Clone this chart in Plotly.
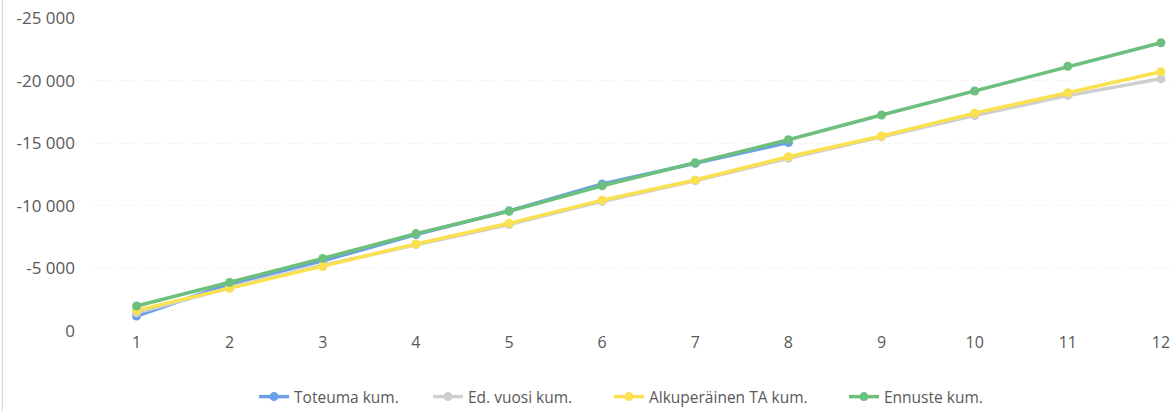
import plotly.graph_objects as go

months = [1, 2, 3, 4, 5, 6, 7, 8, 9, 10, 11, 12]
toteuma = [-1200, -3750, -5600, -7700, -9600, -11750, -13400, -15050]
ed_vuosi = [-1450, -3450, -5250, -6900, -8500, -10350, -12000, -13800, -15500, -17200, -18800, -20150]
alkup_ta = [-1650, -3400, -5150, -6950, -8600, -10450, -12060, -13920, -15580, -17400, -19030, -20710]
ennuste = [-2000, -3880, -5800, -7780, -9560, -11600, -13440, -15280, -17250, -19170, -21150, -23020]

y_ticks = [0, -5000, -10000, -15000, -20000, -25000]
y_labels = ["0", "-5 000", "-10 000", "-15 000", "-20 000", "-25 000"]

series = [
    ("Toteuma kum.", toteuma, "#6b9fe6"),
    ("Ed. vuosi kum.", ed_vuosi, "#cfcfcf"),
    ("Alkuperäinen TA kum.", alkup_ta, "#fbe14f"),
    ("Ennuste kum.", ennuste, "#6cbf7c"),
]
legend_x = [0.1515, 0.3121, 0.4792, 0.6962]

fig = go.Figure()
legend_ids = ["legend", "legend2", "legend3", "legend4"]
for (name, vals, col), lid in zip(series, legend_ids):
    fig.add_trace(go.Scatter(
        x=months[:len(vals)], y=vals, name=name, mode="lines+markers",
        line=dict(color=col, width=3.5),
        marker=dict(color=col, size=9),
        legend=lid,
    ))

font_fam = "Open Sans, Noto Sans, sans-serif"
legend_common = dict(orientation="h", xanchor="left", y=-0.211, yanchor="middle",
                     font=dict(size=15.5, color="#595959"), bgcolor="rgba(0,0,0,0)")
fig.update_layout(
    width=1173, height=411,
    margin=dict(l=90, r=0, t=18, b=80, autoexpand=False),
    paper_bgcolor="white", plot_bgcolor="white",
    font=dict(family=font_fam, size=15, color="#595959"),
    showlegend=True,
    xaxis=dict(range=[0.5, 12.13], tickvals=months, ticktext=[str(m) for m in months],
               showgrid=False, zeroline=False, showline=False, ticks="", automargin=False,
               tickfont=dict(size=16, color="#595959")),
    yaxis=dict(range=[0, -25000], tickvals=y_ticks, ticktext=y_labels, automargin=False,
               showgrid=True, gridcolor="#f2f2ee", griddash="dot", gridwidth=1,
               zeroline=False, showline=False, ticks="", ticklabelstandoff=14,
               tickfont=dict(size=17, color="#595959")),
)
for lid, lx in zip(legend_ids, legend_x):
    fig.update_layout({lid: dict(legend_common, x=lx)})

fig.add_shape(type="line", xref="paper", yref="paper", x0=-0.081, x1=-0.081, y0=-0.26, y1=1.06,
              line=dict(color="#d0d0d0", width=1))

fig.write_html("out.html", config={"displayModeBar": False},
               post_script="document.body.style.margin='0';document.body.style.overflow='hidden';")
